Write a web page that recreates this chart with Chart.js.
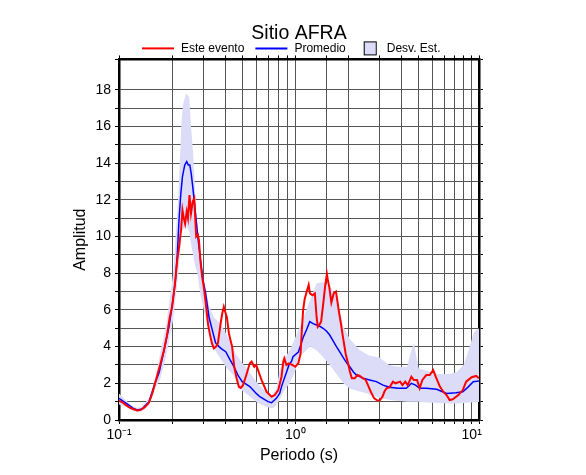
<!DOCTYPE html>
<html lang="es">
<head>
    <meta charset="UTF-8">
    <title>Sitio AFRA</title>
    <script src="https://cdn.jsdelivr.net/npm/chart.js"></script>
    <style>
        body {
            margin: 0;
            background: #ffffff;
        }
        #chart {
            display: block;
        }
    </style>
</head>
<body>
    <canvas id="chart" width="586" height="475"></canvas>

    <script>
        "use strict";

        // Este evento (periodo en s, amplitud)
        const eventPeriods = [0.100, 0.105, 0.110, 0.115, 0.120, 0.127, 0.133, 0.140, 0.148, 0.155,
            0.161, 0.170, 0.180, 0.187, 0.194, 0.200, 0.207, 0.214, 0.219, 0.225,
            0.229, 0.233, 0.237, 0.242, 0.246, 0.251, 0.256, 0.262, 0.267, 0.274,
            0.280, 0.284, 0.290, 0.296, 0.303, 0.312, 0.320, 0.327, 0.336, 0.345,
            0.355, 0.364, 0.377, 0.385, 0.393, 0.400, 0.409, 0.420, 0.430, 0.438,
            0.450, 0.466, 0.479, 0.490, 0.505, 0.525, 0.552, 0.565, 0.585, 0.600,
            0.643, 0.686, 0.733, 0.764, 0.800, 0.835, 0.855, 0.866, 0.890, 0.920,
            0.960, 1.000, 1.040, 1.070, 1.090, 1.107, 1.130, 1.160, 1.190, 1.210,
            1.250, 1.290, 1.320, 1.340, 1.370, 1.400, 1.440, 1.480, 1.510, 1.530,
            1.560, 1.600, 1.650, 1.700, 1.760, 1.810, 1.860, 1.930, 1.990, 2.040,
            2.090, 2.170, 2.250, 2.320, 2.420, 2.500, 2.580, 2.690, 2.800, 2.900,
            3.000, 3.120, 3.200, 3.290, 3.420, 3.580, 3.700, 3.930, 4.050, 4.200,
            4.340, 4.550, 4.700, 4.900, 5.070, 5.250, 5.530, 5.780, 6.050, 6.250,
            6.600, 6.900, 7.200, 7.500, 7.800, 8.400, 8.900, 9.300, 10.00, 10.60, 11.00];
        const eventValues = [1.05, 0.95, 0.80, 0.68, 0.60, 0.52, 0.55, 0.70, 0.95, 1.50,
            2.09, 2.90, 3.80, 4.60, 5.60, 6.17, 7.30, 8.72, 9.40, 10.40,
            11.44, 11.00, 10.70, 11.35, 11.00, 12.26, 11.26, 11.90, 12.08, 9.99,
            10.10, 9.80, 8.60, 7.81, 7.20, 6.17, 5.20, 4.72, 4.20, 3.90,
            4.00, 4.20, 5.27, 5.80, 6.17, 5.90, 5.60, 4.72, 4.30, 4.00,
            2.90, 2.20, 1.80, 1.75, 1.90, 2.40, 3.09, 3.18, 2.90, 3.00,
            2.18, 1.54, 1.27, 1.36, 1.63, 2.36, 3.20, 3.36, 3.00, 3.09,
            3.00, 2.90, 3.10, 3.60, 5.00, 6.00, 6.60, 7.00, 7.36, 6.90,
            6.80, 6.90, 5.60, 5.08, 5.20, 5.36, 6.36, 7.40, 7.95, 7.60,
            7.20, 6.40, 6.90, 7.00, 6.00, 5.30, 4.54, 3.60, 3.09, 2.63,
            2.27, 2.27, 2.45, 2.40, 2.27, 2.20, 1.90, 1.50, 1.18, 1.08,
            1.05, 1.27, 1.55, 1.73, 1.78, 2.09, 2.00, 2.09, 1.90, 2.09,
            1.90, 2.36, 2.18, 2.18, 1.73, 2.18, 2.45, 2.45, 2.72, 2.36,
            1.82, 1.54, 1.36, 1.09, 1.13, 1.36, 1.63, 2.09, 2.33, 2.40, 2.27];

        // Promedio
        const meanPeriods = [0.100, 0.110, 0.120, 0.127, 0.135, 0.148, 0.160, 0.169, 0.180, 0.192,
            0.200, 0.209, 0.214, 0.219, 0.224, 0.229, 0.236, 0.242, 0.247, 0.252,
            0.257, 0.262, 0.268, 0.274, 0.282, 0.290, 0.300, 0.310, 0.324, 0.338,
            0.353, 0.369, 0.385, 0.403, 0.425, 0.449, 0.475, 0.500, 0.552, 0.600,
            0.629, 0.700, 0.733, 0.780, 0.815, 0.835, 0.861, 0.891, 0.920, 0.952,
            0.970, 1.040, 1.074, 1.107, 1.156, 1.207, 1.260, 1.318, 1.390, 1.436,
            1.500, 1.566, 1.640, 1.710, 1.790, 1.870, 1.960, 2.035, 2.140, 2.220,
            2.320, 2.420, 2.640, 2.880, 3.140, 3.420, 3.820, 4.250, 4.400, 4.550,
            4.800, 5.070, 5.530, 6.330, 7.200, 8.160, 8.900, 9.500, 10.20, 11.00];
        const meanValues = [1.18, 0.90, 0.65, 0.55, 0.60, 0.99, 2.00, 2.60, 3.80, 5.08,
            6.20, 7.63, 9.00, 10.90, 12.30, 13.26, 13.90, 14.08, 13.90, 13.90,
            13.40, 12.70, 11.80, 10.90, 9.70, 8.72, 7.60, 6.90, 5.60, 4.90,
            4.20, 4.00, 3.85, 3.72, 3.30, 2.90, 2.40, 2.09, 1.82, 1.45,
            1.27, 1.00, 0.94, 1.18, 1.45, 1.82, 2.20, 2.60, 3.00, 3.20,
            3.45, 3.70, 4.10, 4.50, 4.90, 5.36, 5.25, 5.18, 5.08, 5.00,
            4.85, 4.63, 4.30, 4.00, 3.70, 3.40, 3.10, 2.90, 2.60, 2.45,
            2.36, 2.27, 2.18, 2.09, 1.90, 1.78, 1.73, 1.73, 1.85, 2.00,
            1.90, 1.73, 1.73, 1.67, 1.45, 1.49, 1.54, 1.78, 2.09, 2.12];

        // Desv. Est. (limites superior e inferior)
        const bandPeriods = [0.100, 0.110, 0.120, 0.127, 0.135, 0.148, 0.160, 0.171, 0.186, 0.203,
            0.217, 0.226, 0.231, 0.240, 0.250, 0.256, 0.263, 0.270, 0.278, 0.290,
            0.311, 0.325, 0.345, 0.379, 0.410, 0.460, 0.500, 0.550, 0.600, 0.650,
            0.700, 0.740, 0.780, 0.815, 0.860, 0.930, 1.000, 1.060, 1.210, 1.320,
            1.430, 1.570, 1.710, 1.870, 2.040, 2.320, 2.640, 3.000, 3.400, 3.800,
            4.300, 4.550, 4.700, 5.000, 5.500, 6.500, 7.500, 8.200, 9.000, 9.600,
            10.30, 11.00];
        const bandUpper = [1.45, 1.05, 0.75, 0.65, 0.72, 1.20, 2.20, 3.60, 5.30, 8.00,
            12.20, 16.20, 17.20, 17.80, 17.60, 16.00, 14.60, 12.60, 10.40, 8.60,
            7.00, 6.20, 5.60, 5.20, 4.60, 3.60, 3.10, 2.60, 2.10, 1.70,
            1.45, 1.35, 1.70, 2.70, 3.30, 3.80, 4.50, 5.10, 6.50, 7.45,
            7.50, 7.30, 6.70, 5.10, 4.40, 3.80, 3.50, 3.40, 3.00, 2.90,
            2.90, 3.80, 4.20, 2.80, 2.70, 2.50, 2.50, 2.60, 3.00, 3.80,
            4.80, 5.00];
        const bandLower = [0.85, 0.72, 0.50, 0.42, 0.48, 0.80, 1.70, 2.20, 3.60, 5.50,
            8.00, 10.20, 10.40, 10.60, 10.30, 9.60, 9.00, 8.40, 8.00, 6.80,
            5.50, 4.80, 3.90, 3.30, 2.80, 2.30, 1.60, 1.30, 1.00, 0.80,
            0.70, 0.62, 0.80, 1.10, 1.60, 2.00, 2.70, 3.45, 4.00, 3.80,
            3.45, 3.00, 2.50, 2.00, 1.70, 1.55, 1.40, 1.20, 1.10, 1.05,
            1.00, 1.00, 1.00, 1.00, 0.95, 0.92, 0.90, 0.90, 0.92, 0.95,
            0.97, 0.98];

        const xTickValues = [0.1, 1, 10];
        const xTickLabels = ['10\u207B\u00B9', '10\u2070', '10\u00B9'];

        const X_MIN = 0.1, X_MAX = 11, Y_MAX = 19.65;
        const BAND_COLOR = '#dcdcf8';
        const FONT = '"Liberation Sans", Arial, Helvetica, sans-serif';

        Chart.defaults.font.family = FONT;
        Chart.defaults.color = '#000';

        const toPoints = (xs, ys) => xs.map((x, i) => ({ x: x, y: ys[i] }));

        // Leyenda dibujada a mano (lineas y caja como en el original)
        const legendPlugin = {
            id: 'customLegend',
            afterDraw(chart) {
                const ctx = chart.ctx;
                const area = chart.chartArea;
                const y = area.top - 11;
                let x = area.left + 23;
                ctx.save();
                ctx.font = '12px ' + FONT;
                ctx.textBaseline = 'middle';
                ctx.fillStyle = '#000';

                const lineItem = (color, text) => {
                    ctx.strokeStyle = color;
                    ctx.lineWidth = 2;
                    ctx.beginPath();
                    ctx.moveTo(x, y);
                    ctx.lineTo(x + 32, y);
                    ctx.stroke();
                    ctx.fillText(text, x + 39, y);
                    x += 39 + ctx.measureText(text).width + 11;
                };
                lineItem('#ff0000', 'Este evento');
                lineItem('#0000ff', 'Promedio');

                x += 7;
                ctx.fillStyle = BAND_COLOR;
                ctx.fillRect(x, y - 6.5, 12, 13);
                ctx.strokeStyle = '#000';
                ctx.lineWidth = 1;
                ctx.strokeRect(x + 0.5, y - 6.5, 12, 13);
                ctx.fillStyle = '#000';
                ctx.fillText('Desv. Est.', x + 23, y);
                ctx.restore();
            }
        };

        const gridColor = '#555555';

        new Chart(document.getElementById('chart'), {
            type: 'line',
            data: {
                datasets: [
                    {
                        label: 'Este evento',
                        data: toPoints(eventPeriods, eventValues),
                        borderColor: '#ff0000',
                        borderWidth: 2,
                        pointRadius: 0,
                        fill: false
                    },
                    {
                        label: 'Promedio',
                        data: toPoints(meanPeriods, meanValues),
                        borderColor: '#0000ff',
                        borderWidth: 1.5,
                        pointRadius: 0,
                        fill: false
                    },
                    {
                        label: 'Desv. Est.',
                        data: toPoints(bandPeriods, bandUpper),
                        borderWidth: 0,
                        borderColor: 'rgba(0,0,0,0)',
                        backgroundColor: BAND_COLOR,
                        pointRadius: 0,
                        fill: '+1'
                    },
                    {
                        label: 'Desv. Est. inf',
                        data: toPoints(bandPeriods, bandLower),
                        borderWidth: 0,
                        borderColor: 'rgba(0,0,0,0)',
                        pointRadius: 0,
                        fill: false
                    }
                ]
            },
            options: {
                responsive: false,
                animation: false,
                devicePixelRatio: 1,
                layout: { padding: { left: 0, right: 103, top: 0, bottom: 0 } },
                plugins: {
                    legend: { display: false },
                    tooltip: { enabled: false },
                    title: {
                        display: true,
                        text: 'Sitio AFRA',
                        fullSize: false,
                        color: '#000',
                        font: { size: 19.5, weight: 'normal' },
                        padding: { top: 22, bottom: 10 }
                    }
                },
                scales: {
                    x: {
                        type: 'logarithmic',
                        position: 'bottom',
                        min: X_MIN,
                        max: X_MAX,
                        grid: { color: gridColor, lineWidth: 1, tickLength: 4, tickColor: '#000' },
                        border: { color: '#000', width: 2.5 },
                        ticks: {
                            autoSkip: false,
                            maxRotation: 0,
                            padding: 3,
                            font: { size: 14 },
                            callback: (v) => {
                                const i = xTickValues.findIndex(t => Math.abs(t - v) < 1e-9);
                                return i >= 0 ? xTickLabels[i] : '';
                            }
                        },
                        title: {
                            display: true,
                            text: 'Periodo (s)',
                            font: { size: 16 },
                            padding: { top: 0, bottom: 10 }
                        },
                        afterFit: (s) => { s.height = 55; }
                    },
                    xTop: {
                        type: 'logarithmic',
                        position: 'top',
                        min: X_MIN,
                        max: X_MAX,
                        grid: { drawOnChartArea: false, tickLength: 4, color: '#000' },
                        border: { color: '#000', width: 2.5 },
                        ticks: { display: false, autoSkip: false },
                        afterFit: (s) => { s.height = 4; }
                    },
                    y: {
                        type: 'linear',
                        position: 'left',
                        min: 0,
                        max: Y_MAX,
                        grid: { color: gridColor, lineWidth: 1, tickLength: 4, tickColor: '#000' },
                        border: { color: '#000', width: 2.5 },
                        ticks: {
                            stepSize: 1,
                            autoSkip: false,
                            padding: 4,
                            font: { size: 14 },
                            callback: (v) => (Number.isInteger(v) && v % 2 === 0) ? String(v) : ''
                        },
                        title: {
                            display: true,
                            text: 'Amplitud',
                            font: { size: 16 },
                            padding: { top: 71, bottom: 0 }
                        },
                        afterFit: (s) => { s.width = 119; }
                    },
                    yRight: {
                        type: 'linear',
                        position: 'right',
                        min: 0,
                        max: Y_MAX,
                        grid: { drawOnChartArea: false, tickLength: 4, color: '#000' },
                        border: { color: '#000', width: 2.5 },
                        ticks: { display: false, stepSize: 1, autoSkip: false },
                        afterFit: (s) => { s.width = 4; }
                    }
                }
            },
            plugins: [legendPlugin]
        });
    </script>
</body>
</html>
